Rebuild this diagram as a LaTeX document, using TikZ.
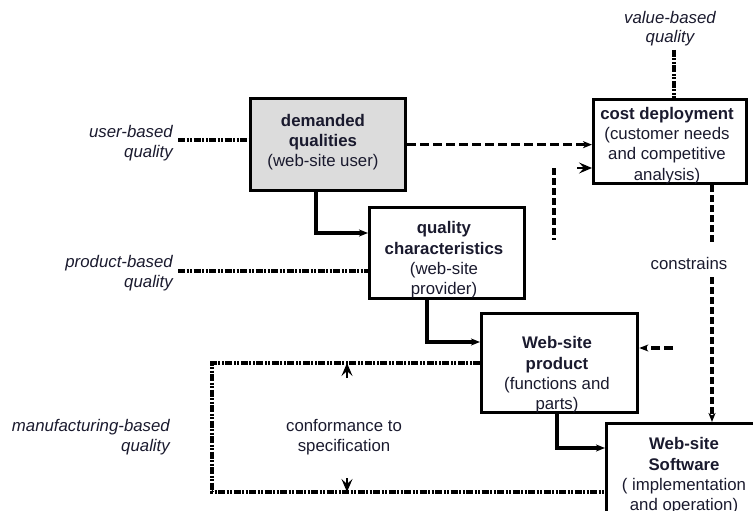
\documentclass[tikz,border=0pt]{standalone}
\usepackage{fontspec}
\setmainfont{Liberation Sans}
\usetikzlibrary{arrows.meta}
\definecolor{txt}{HTML}{1A1A2E}
\definecolor{boxgray}{HTML}{DCDCDC}
\begin{document}
\begin{tikzpicture}[x=1pt,y=-1pt,
  box/.style={draw=black, line width=3.3pt, inner sep=0pt, anchor=north west},
  lbl/.style={text=txt, font=\fontsize{16.8}{20.3}\selectfont, align=center, inner sep=0pt},
  ital/.style={text=txt, font=\fontsize{16.8}{20.3}\selectfont\itshape, align=right, anchor=east, inner sep=0pt},
  solidc/.style={line width=3.2pt},
  dashc/.style={line width=3.2pt, dash pattern=on 9pt off 4pt},
  dashv/.style={line width=3.4pt, dash pattern=on 7pt off 3pt},
  dotc/.style={line width=3.2pt, dash pattern=on 7pt off 1.5pt on 2pt off 1.5pt on 2pt off 1.5pt},
  tip/.style={-{Stealth[length=9pt,width=7pt,inset=2.5pt]}},
  headonly/.style={line width=1.2pt, -{Stealth[length=13pt,width=11pt,inset=5pt]}},
]
\useasboundingbox (0,0) rectangle (753,511);
\clip (0,0) rectangle (753,511);

% boxes
\node[box, fill=boxgray, minimum width=155pt, minimum height=92pt] (dq) at (249,97) {};
\node[box, minimum width=153pt, minimum height=84pt] (cd) at (592,98) {};
\node[box, minimum width=155pt, minimum height=91pt] (qc) at (368,206) {};
\node[box, minimum width=156pt, minimum height=99pt] (wp) at (480,312) {};
\node[box, minimum width=170pt, minimum height=110pt] (ws) at (605,422) {};

% box texts
\node[lbl] (dqt) at (323,142) {\textbf{demanded}\\\textbf{qualities}\\(web-site user)};
\node[lbl] (cdt) at (667,145.5) {\textbf{cost deployment}\\(customer needs\\and competitive\\analysis)};
\node[lbl] (qct) at (444,260) {\textbf{quality}\\\textbf{characteristics}\\(web-site\\provider)};
\node[lbl] (wpt) at (557,375) {\textbf{Web-site}\\\textbf{product}\\(functions and\\parts)};
\node[lbl] (wst) at (684,476) {\textbf{Web-site}\\\textbf{Software}\\( implementation\\and operation)};

% side labels
\node[ital] (ub) at (173,143.5) {user-based\\quality};
\node[ital] (pb) at (173,273) {product-based\\quality};
\node[ital] (mb) at (170,437.5) {manufacturing-based\\quality};
\node[lbl, font=\fontsize{16.8}{19}\selectfont\itshape] (vb) at (670,29) {value-based\\quality};
\node[lbl] (cons) at (689,263) {constrains};
\node[lbl] (conf) at (344,437) {conformance to\\specification};

% dotted connectors
\coordinate (ubs) at (178,140);
\draw[dotc] (ubs) -- (ubs -| dq.west);
\coordinate (pbs) at (178,271);
\draw[dotc] (pbs) -- (pbs -| qc.west);
\coordinate (vbs) at (674,50);
\draw[dotc] (vbs) -- (vbs |- cd.north);
\coordinate (cl1) at (212,363);
\coordinate (cl2) at (212,492);
\draw[dotc] (cl1 -| wp.west) -- (cl1) -- (cl2) -- (cl2 -| ws.west);

% dashed connectors
\draw[dashc, tip] (dq.east) -- (dq.east -| cd.west);
\coordinate (vd1) at (554,168);
\coordinate (vd2) at (554,240);
\draw[dashv] (vd1) -- (vd2);
\coordinate (ah1) at (577,168);
\draw[headonly] (ah1) -- (ah1 -| cd.west);
\coordinate (cs1) at (712,244);
\draw[dashv] (cd.south -| cs1) -- (cs1);
\coordinate (cs2) at (712,277);
\draw[dashv, tip] (cs2) -- (cs2 |- ws.north);
\coordinate (pr) at (673,348);
\draw[dashc, tip] (pr) -- (pr -| wp.east);

% solid connectors
\coordinate (s1) at (316,233);
\draw[solidc, tip] (s1 |- dq.south) -- (s1) -- (s1 -| qc.west);
\coordinate (s2) at (427,342);
\draw[solidc, tip] (s2 |- qc.south) -- (s2) -- (s2 -| wp.west);
\coordinate (s3) at (557,448);
\draw[solidc, tip] (s3 |- wp.south) -- (s3) -- (s3 -| ws.west);

% conformance arrowheads
\coordinate (ca1) at (347,378);
\draw[headonly] (ca1) -- (ca1 |- cl1);
\coordinate (ca2) at (347,478);
\draw[headonly] (ca2) -- (ca2 |- cl2);
\end{tikzpicture}
\end{document}
